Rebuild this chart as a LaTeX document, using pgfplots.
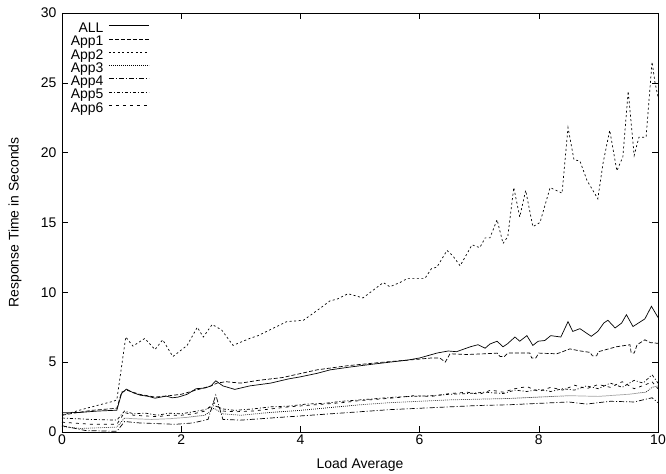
\documentclass[border=0pt]{standalone}
\usepackage{fontspec}
\setmainfont{Liberation Sans}
\usepackage{pgfplots}
\pgfplotsset{compat=1.18}
\begin{document}
\begin{tikzpicture}
\begin{axis}[
  scale only axis,
  width=596bp, height=419bp,
  xmin=0, xmax=10, ymin=0, ymax=30,
  xtick={0,2,...,10}, ytick={0,5,...,30},
  tick align=inside,
  major tick length=6bp,
  tick style={black, line width=0.6pt},
  axis line style={black, line width=0.9pt},
  /pgf/number format/assume math mode=true,
  ticklabel style={font=\fontsize{14}{16}\selectfont},
  xticklabel style={yshift=1bp},
  yticklabel style={xshift=-2bp},
  xlabel={Load Average},
  ylabel={Response Time in Seconds},
  every axis x label/.style={at={(axis description cs:0.5,-0.079)}, anchor=center, font=\fontsize{14}{16}\selectfont},
  every axis y label/.style={at={(axis description cs:-0.079,0.5)}, rotate=90, anchor=center, font=\fontsize{14}{16}\selectfont},
  every axis plot/.append style={black, line width=0.7pt},
  legend style={draw=none, fill=none, at={(0.0146,0.978)}, anchor=north west,
    inner sep=0bp, font=\fontsize{14}{16}\selectfont, row sep=0bp,
    nodes={inner sep=0bp, text height=10bp, text depth=3.3bp},
    /tikz/every odd column/.append style={column sep=5bp}},
  legend plot pos=right,
  legend cell align=right,
  legend image code/.code={\draw[#1] (0bp,3.5bp) -- (40bp,3.5bp);},
]
\coordinate (ll) at (rel axis cs:0,0);
% ALL
\addplot[solid] coordinates {
(0,1.37)(0.3,1.4)(0.6,1.5)(0.92,1.56)(1.0,2.76)(1.08,3.07)(1.2,2.8)(1.31,2.64)(1.45,2.55)(1.56,2.42)(1.75,2.57)(1.85,2.45)(1.95,2.5)(2.1,2.7)(2.25,3.1)(2.4,3.15)(2.5,3.3)(2.58,3.67)(2.7,3.3)(2.9,3.05)(3.15,3.3)(3.5,3.5)(3.8,3.8)(4.0,3.95)(4.28,4.2)(4.5,4.45)(4.83,4.65)(5.2,4.85)(5.5,5.0)(5.8,5.15)(6.0,5.3)(6.29,5.65)(6.48,5.8)(6.62,5.75)(6.85,6.1)(6.98,6.25)(7.1,6.0)(7.18,6.3)(7.3,6.5)(7.4,6.1)(7.47,6.3)(7.6,6.8)(7.68,6.5)(7.8,6.9)(7.9,6.2)(7.99,6.5)(8.1,6.55)(8.2,6.9)(8.37,6.8)(8.49,7.9)(8.57,7.2)(8.69,7.4)(8.88,6.85)(8.99,7.2)(9.09,7.8)(9.16,8.0)(9.28,7.45)(9.39,7.8)(9.47,8.4)(9.58,7.55)(9.78,8.1)(9.89,9.0)(10.0,8.2)
};
\addlegendentry{ALL}
% App1
\addplot[dash pattern=on 4bp off 2bp] coordinates {
(0,1.2)(0.2,1.35)(0.5,1.55)(0.92,1.7)(1.0,2.85)(1.08,3.0)(1.3,2.7)(1.56,2.5)(1.8,2.6)(2.0,2.7)(2.25,3.0)(2.5,3.3)(2.6,3.5)(2.75,3.6)(3.0,3.5)(3.3,3.7)(3.7,3.9)(4.28,4.45)(4.8,4.75)(5.39,5.0)(5.95,5.2)(6.2,5.3)(6.34,5.3)(6.43,5.0)(6.51,5.6)(6.8,5.55)(7.1,5.6)(7.3,5.65)(7.35,5.4)(7.42,5.4)(7.48,5.65)(7.85,5.65)(7.88,5.3)(7.95,5.3)(8.0,5.65)(8.3,5.6)(8.4,5.75)(8.52,5.95)(8.7,5.8)(8.86,5.7)(8.9,5.45)(8.97,5.45)(9.0,5.75)(9.3,6.1)(9.53,6.25)(9.55,5.65)(9.6,5.65)(9.65,6.25)(9.78,6.6)(9.87,6.4)(10,6.35)
};
\addlegendentry{App1}
% App2
\addplot[dash pattern=on 2bp off 2.5bp] coordinates {
(0,1.2)(0.41,1.7)(0.86,2.2)(0.92,2.3)(1.07,6.8)(1.19,6.15)(1.39,6.7)(1.56,5.9)(1.69,6.6)(1.86,5.4)(2.1,6.2)(2.27,7.5)(2.37,6.8)(2.52,7.7)(2.68,7.3)(2.87,6.2)(3.15,6.7)(3.29,6.9)(3.77,7.9)(4.05,8.0)(4.28,8.7)(4.5,9.4)(4.61,9.5)(4.8,9.9)(5.05,9.6)(5.39,10.7)(5.5,10.4)(5.67,10.7)(5.8,11.0)(6.09,11.0)(6.2,11.7)(6.29,11.8)(6.46,13.0)(6.56,12.6)(6.68,11.9)(6.76,12.5)(6.88,13.4)(7.01,13.2)(7.1,13.9)(7.18,13.9)(7.3,15.2)(7.4,13.5)(7.48,14.0)(7.58,17.5)(7.68,15.4)(7.78,17.3)(7.9,14.7)(8.02,15.0)(8.19,17.5)(8.39,17.1)(8.49,21.8)(8.59,19.5)(8.69,19.4)(8.81,18.0)(8.99,16.7)(9.08,19.3)(9.19,21.6)(9.31,18.7)(9.41,19.7)(9.5,24.4)(9.6,19.8)(9.68,21.1)(9.8,21.1)(9.9,26.5)(9.95,25.0)(10,24.0)
};
\addlegendentry{App2}
% App3
\addplot[dash pattern=on 0.8bp off 1.2bp] coordinates {
(0,0.4)(0.3,0.25)(0.6,0.3)(0.92,0.35)(1.05,1.0)(1.2,0.95)(1.5,0.9)(1.8,0.95)(2.1,1.05)(2.4,1.2)(2.55,1.7)(2.7,1.3)(3.0,1.2)(3.5,1.4)(4.0,1.55)(4.5,1.75)(5.0,1.95)(5.5,2.1)(6.0,2.2)(6.5,2.3)(7.0,2.35)(7.5,2.4)(8.0,2.5)(8.5,2.6)(9.0,2.55)(9.5,2.7)(9.8,2.85)(9.9,3.2)(10,3.3)
};
\addlegendentry{App3}
% App4
\addplot[dash pattern=on 5bp off 2bp on 1bp off 2bp] coordinates {
(0,0.45)(0.4,0.1)(0.92,0.05)(1.05,0.75)(1.3,0.65)(1.6,0.6)(1.9,0.55)(2.2,0.65)(2.45,0.9)(2.58,2.65)(2.7,0.9)(3.0,0.85)(3.5,1.0)(4.0,1.15)(4.5,1.3)(5.0,1.45)(5.5,1.6)(6.0,1.7)(6.5,1.8)(7.0,1.9)(7.5,1.95)(8.0,2.05)(8.5,2.15)(8.8,2.0)(9.2,2.2)(9.6,2.15)(9.9,2.45)(10,2.1)
};
\addlegendentry{App4}
% App5
\addplot[dash pattern=on 3bp off 2bp on 1bp off 2bp] coordinates {
(0,1.0)(0.5,0.9)(0.92,0.85)(1.05,1.5)(1.2,1.3)(1.4,1.35)(1.6,1.2)(1.8,1.35)(2.0,1.3)(2.2,1.45)(2.4,1.6)(2.55,1.9)(2.7,1.65)(2.9,1.55)(3.2,1.65)(3.5,1.8)(3.8,1.85)(4.1,2.0)(4.4,2.05)(4.7,2.2)(5.0,2.3)(5.3,2.4)(5.6,2.5)(5.9,2.55)(6.2,2.6)(6.5,2.7)(6.8,2.75)(7.1,2.85)(7.4,2.75)(7.6,3.0)(7.8,2.9)(8.0,3.05)(8.2,2.9)(8.4,3.1)(8.6,3.0)(8.8,3.3)(9.0,3.1)(9.2,3.5)(9.4,3.2)(9.6,3.7)(9.75,3.5)(9.9,4.1)(10,3.5)
};
\addlegendentry{App5}
% App6
\addplot[dash pattern=on 3bp off 4bp] coordinates {
(0,0.7)(0.5,0.55)(0.92,0.55)(1.05,1.4)(1.2,1.2)(1.4,1.15)(1.6,1.1)(1.8,1.2)(2.0,1.2)(2.2,1.3)(2.4,1.5)(2.55,2.1)(2.7,1.5)(2.9,1.45)(3.2,1.5)(3.5,1.65)(3.8,1.8)(4.1,1.9)(4.4,2.0)(4.7,2.1)(5.0,2.25)(5.3,2.35)(5.6,2.45)(5.9,2.6)(6.2,2.55)(6.5,2.75)(6.8,2.85)(7.0,2.7)(7.2,3.0)(7.4,2.85)(7.6,3.1)(7.8,3.25)(8.0,2.9)(8.2,3.2)(8.4,3.0)(8.6,3.35)(8.8,3.1)(9.0,3.4)(9.2,3.2)(9.4,3.6)(9.6,3.1)(9.8,3.4)(9.9,3.6)(10,3.1)
};
\addlegendentry{App6}
\end{axis}
\pgfresetboundingbox
\path (ll) ++(-62bp,-42bp) rectangle ++(666bp,474bp);
\end{tikzpicture}
\end{document}
